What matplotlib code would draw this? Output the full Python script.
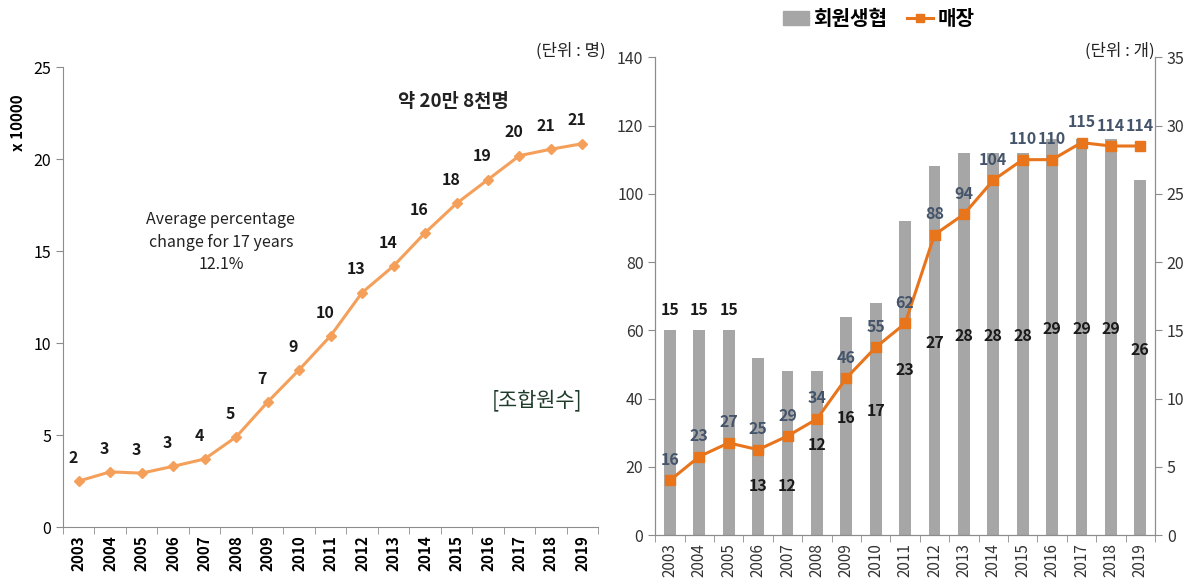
import numpy as np
import matplotlib
matplotlib.use("Agg")
import matplotlib.pyplot as plt
from matplotlib.patches import Patch
from matplotlib.lines import Line2D

plt.rcParams['font.family'] = ['Noto Sans CJK KR', 'DejaVu Sans']

years = [str(y) for y in range(2003, 2020)]

# left chart: union members (x 10000)
members = [2.5, 3.0, 2.93, 3.3, 3.7, 4.9, 6.8, 8.55, 10.4, 12.75, 14.2, 16.0, 17.6, 18.9, 20.2, 20.55, 20.85]
member_labels = [2, 3, 3, 3, 4, 5, 7, 9, 10, 13, 14, 16, 18, 19, 20, 21, 21]

# right chart: member co-ops (bars, right axis) and stores (line, left axis)
coops = [15, 15, 15, 13, 12, 12, 16, 17, 23, 27, 28, 28, 28, 29, 29, 29, 26]
stores = [16, 23, 27, 25, 29, 34, 46, 55, 62, 88, 94, 104, 110, 110, 115, 114, 114]
# where the bar value labels sit (right-axis units)
coop_label_y = [15.9, 15.9, 15.9, 3.0, 3.0, 6.0, 8.0, 8.5, 11.5, 13.5, 14.0, 14.0, 14.0, 14.5, 14.5, 14.5, 13.0]

spine_c = '#8c8c8c'
line_c = '#f4a05a'
store_c = '#e8741c'
bar_c = '#a6a6a6'
lab_c = '#44546a'

fig = plt.figure(figsize=(12, 5.84), dpi=100)
x = np.arange(len(years))

# ---------------- left chart ----------------
ax = fig.add_axes([0.0525, 0.0976, 0.446, 0.787])
ax.plot(x, members, color=line_c, lw=2.2, marker='D', ms=5, mfc=line_c, mec=line_c)
for i, v in enumerate(members):
    ax.annotate(str(member_labels[i]), (i, v), xytext=(-4, 11), textcoords='offset points',
                ha='center', va='bottom', fontsize=11.5, fontweight='bold', color='#1a1a1a')
ax.set_xlim(-0.5, len(years) - 0.5)
ax.set_ylim(0, 25)
ax.set_yticks([0, 5, 10, 15, 20, 25])
ax.set_xticks(x)
ax.set_xticklabels(years, rotation=90, fontweight='bold', fontsize=11)
ax.set_xticks(np.arange(-0.5, len(years)), minor=True)
ax.tick_params(axis='x', which='major', length=0, pad=6)
ax.tick_params(axis='x', which='minor', length=5, color=spine_c)
ax.tick_params(axis='y', length=5, color=spine_c, labelsize=11.5)
for s in ['top', 'right']:
    ax.spines[s].set_visible(False)
for s in ['left', 'bottom']:
    ax.spines[s].set_color(spine_c)
ax.set_ylabel('x 10000', fontweight='bold', fontsize=11)
ax.yaxis.set_label_coords(-0.07, 0.88)

ax.text(0.295, 0.62, 'Average percentage\nchange for 17 years\n12.1%', transform=ax.transAxes,
        ha='center', va='center', fontsize=11.5, linespacing=1.45, color='#222222')
ax.text(0.73, 0.925, '약 20만 8천명', transform=ax.transAxes, ha='center', va='center',
        fontsize=13.5, fontweight='bold', color='#222222')
ax.text(0.885, 0.275, '[조합원수]', transform=ax.transAxes, ha='center', va='center',
        fontsize=15, color='#1f3b2a')
fig.text(0.476, 0.913, '(단위 : 명)', ha='center', va='center', fontsize=12, color='#222222')

# ---------------- right chart ----------------
axl = fig.add_axes([0.546, 0.0839, 0.4165, 0.818])
axr = axl.twinx()
axr.set_zorder(axl.get_zorder() - 1)
axl.patch.set_visible(False)

axr.bar(x, coops, width=0.4, color=bar_c)
for i, v in enumerate(coops):
    axr.text(i, coop_label_y[i], str(v), ha='center', va='bottom', fontsize=11.5,
             fontweight='bold', color='#1a1a1a')

axl.plot(x, stores, color=store_c, lw=2.2, marker='s', ms=7, mfc=store_c, mec=store_c)
for i, v in enumerate(stores):
    axl.annotate(str(v), (i, v), xytext=(0, 9), textcoords='offset points',
                 ha='center', va='bottom', fontsize=11.5, fontweight='bold', color=lab_c)

axl.set_xlim(-0.5, len(years) - 0.5)
axl.set_ylim(0, 140)
axl.set_yticks(np.arange(0, 141, 20))
axr.set_ylim(0, 35)
axr.set_yticks(np.arange(0, 36, 5))
axl.set_xticks(x)
axl.set_xticklabels(years, rotation=90, fontsize=11, color='#333333')
axl.set_xticks(np.arange(-0.5, len(years)), minor=True)
axl.tick_params(axis='x', which='major', length=0, pad=6)
axl.tick_params(axis='x', which='minor', length=5, color=spine_c)
axl.tick_params(axis='y', length=5, color=spine_c, labelsize=11.5, labelcolor='#333333')
axr.tick_params(axis='y', length=5, color=spine_c, labelsize=11.5, labelcolor='#333333')
for a in (axl, axr):
    a.spines['top'].set_visible(False)
    for s in ['left', 'right', 'bottom']:
        a.spines[s].set_color(spine_c)

fig.text(0.9335, 0.913, '(단위 : 개)', ha='center', va='center', fontsize=12, color='#222222')

handles = [Patch(facecolor=bar_c, edgecolor=bar_c, label='회원생협'),
           Line2D([0], [0], color=store_c, lw=2.2, marker='s', ms=6, label='매장')]
fig.legend(handles=handles, loc='center', bbox_to_anchor=(0.732, 0.968), ncol=2, frameon=False,
           prop={'size': 14.5, 'weight': 'bold'}, handlelength=1.3, columnspacing=1.0,
           handletextpad=0.2)

fig.savefig('out.png', dpi=100)
